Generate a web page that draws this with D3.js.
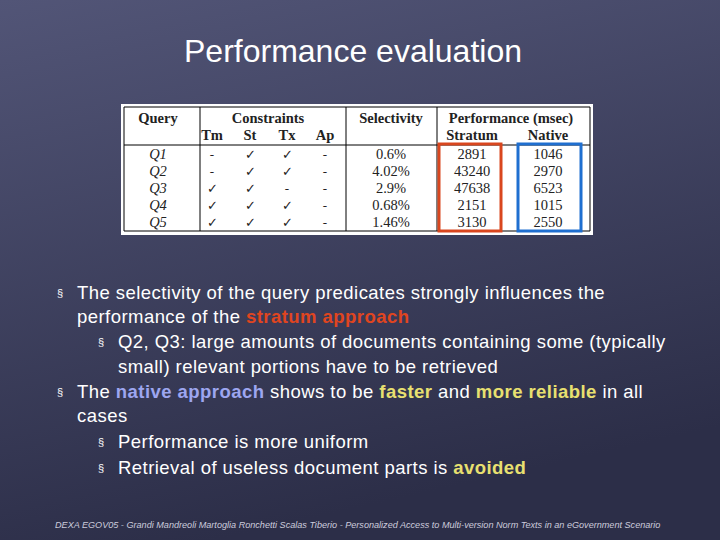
<!DOCTYPE html><html><head><meta charset="utf-8">
<script src="https://cdn.jsdelivr.net/npm/d3@7"></script>
<style>body{margin:0;background:#333550}</style></head><body><svg id="s" width="720" height="540"></svg>
<script>
const queries=["Q1","Q2","Q3","Q4","Q5"];
const tm=["-","-","✓","✓","✓"],st=["✓","✓","✓","✓","✓"],tx=["✓","✓","-","✓","✓"],ap=["-","-","-","-","-"];
const selectivity=["0.6%","4.02%","2.9%","0.68%","1.46%"];
const stratum=[2891,43240,47638,2151,3130];
const native=[1046,2970,6523,1015,2550];
const svg=d3.select("#s");
const defs=svg.append("defs");
const g=defs.append("linearGradient").attr("id","bg").attr("x1",0).attr("y1",0).attr("x2",0.3).attr("y2",1);
g.append("stop").attr("offset",0).attr("stop-color","#525577");
g.append("stop").attr("offset",1).attr("stop-color","#2c2e48");
svg.append("rect").attr("width",720).attr("height",540).attr("fill","url(#bg)");
svg.append("text").attr("x",353).attr("y",62).attr("text-anchor","middle").attr("fill","#fff").attr("font-family","Liberation Sans,Arial").attr("font-size",32).text("Performance evaluation");
const T=svg.append("g").attr("font-family","Liberation Serif,Times New Roman");
T.append("rect").attr("x",121).attr("y",104).attr("width",472).attr("height",131).attr("fill","#fff");
const line=(x1,y1,x2,y2)=>T.append("line").attr("x1",x1).attr("y1",y1).attr("x2",x2).attr("y2",y2).attr("stroke","#000").attr("stroke-width",1);
line(124,107,590,107);line(124,145,590,145);line(124,231,590,231);
[124,200,346,437,590].forEach(x=>line(x,107,x,231));
const txt=(x,y,s,o={})=>T.append("text").attr("x",x).attr("y",y).attr("text-anchor","middle").attr("font-size",o.fs||14.5).attr("font-weight",o.b?"bold":null).attr("font-style",o.i?"italic":null).attr("fill","#222").text(s);
txt(158,123,"Query",{b:1});txt(268,123,"Constraints",{b:1});txt(391,123,"Selectivity",{b:1});txt(511,123,"Performance (msec)",{b:1});
const cx=[212,250,287,325];
["Tm","St","Tx","Ap"].forEach((s,i)=>txt(cx[i],140,s,{b:1}));
txt(472,140,"Stratum",{b:1});txt(548,140,"Native",{b:1});
const y=d3.scaleBand().domain(queries).range([146,230]);
queries.forEach((q,i)=>{const yy=y(q)+y.bandwidth()/2+5;
 txt(158,yy,q,{i:1});[tm,st,tx,ap].forEach((a,j)=>txt(cx[j],yy,a[i],{fs:13}));
 txt(391,yy,selectivity[i]);txt(472,yy,stratum[i]);txt(548,yy,native[i]);});
T.append("rect").attr("x",439).attr("y",144).attr("width",62).attr("height",87).attr("fill","none").attr("stroke","#d9461e").attr("stroke-width",3);
T.append("rect").attr("x",518).attr("y",144).attr("width",63).attr("height",87).attr("fill","none").attr("stroke","#1f6fd0").attr("stroke-width",3);
const lines=[
 {l:0,b:1,y:299,p:[["The selectivity of the query predicates strongly influences the"]]},
 {l:0,y:323,p:[["performance of the "],["stratum approach","#e0451f"]]},
 {l:1,b:1,y:348,p:[["Q2, Q3: large amounts of documents containing some (typically"]]},
 {l:1,y:373,p:[["small) relevant portions have to be retrieved"]]},
 {l:0,b:1,y:398,p:[["The "],["native approach","#9da6f0"],[" shows to be "],["faster","#e8e070"],[" and "],["more reliable","#e8e070"],[" in all"]]},
 {l:0,y:422,p:[["cases"]]},
 {l:1,b:1,y:448,p:[["Performance is more uniform"]]},
 {l:1,b:1,y:474,p:[["Retrieval of useless document parts is "],["avoided","#e8e070"]]}];
const B=svg.append("g").attr("font-family","Liberation Sans,Arial").attr("font-size",18.5).attr("letter-spacing",0.45).attr("fill","#fff");
lines.forEach(d=>{const x0=d.l?118:77;
 if(d.b)B.append("text").attr("x",x0-20).attr("y",d.y-2).attr("font-size",11).text("§");
 const t=B.append("text").attr("x",x0).attr("y",d.y);
 d.p.forEach(p=>t.append("tspan").attr("fill",p[1]||"#fff").attr("font-weight",p[1]?"bold":null).text(p[0]));});
svg.append("text").attr("x",55).attr("y",528).attr("font-family","Liberation Sans,Arial").attr("font-style","italic").attr("font-size",9.1).attr("fill","#ccd").text("DEXA EGOV05  -  Grandi Mandreoli Martoglia Ronchetti Scalas Tiberio  -  Personalized Access to Multi-version Norm Texts in an eGovernment Scenario");
</script></body></html>
